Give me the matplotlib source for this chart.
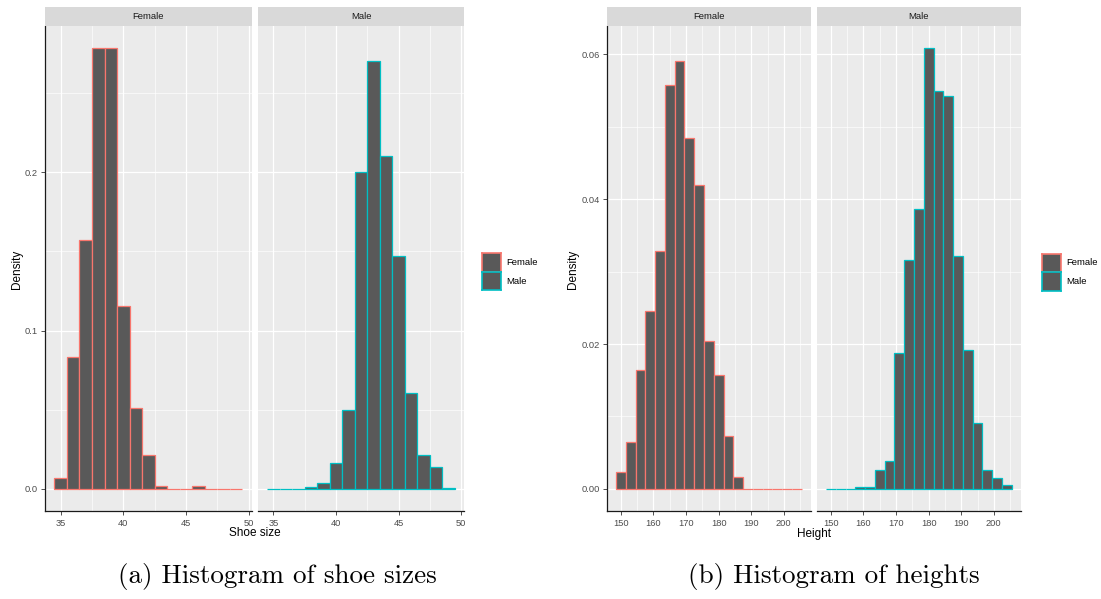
import matplotlib
matplotlib.use("Agg")
import matplotlib.pyplot as plt
from matplotlib.ticker import FixedLocator

# ---------------- data ----------------
shoe_bins = [35, 36, 37, 38, 39, 40, 41, 42, 43, 44, 45, 46, 47, 48, 49]
shoe_female = [0.0072, 0.0834, 0.1572, 0.2786, 0.2786, 0.1153, 0.0513, 0.0217,
               0.0019, 0.0, 0.0, 0.0019, 0.0, 0.0, 0.0]
shoe_male = [0.0, 0.0, 0.0, 0.0015, 0.0040, 0.0164, 0.0498, 0.2004, 0.2700,
             0.2100, 0.1468, 0.0604, 0.0217, 0.0136, 0.0009]

height_bins = [150, 153, 156, 159, 162, 165, 168, 171, 174, 177, 180, 183,
               186, 189, 192, 195, 198, 201, 204]
height_female = [0.0024, 0.0065, 0.0164, 0.0246, 0.0328, 0.0558, 0.0591,
                 0.0484, 0.0419, 0.0204, 0.0157, 0.0073, 0.0016, 0.0, 0.0,
                 0.0, 0.0, 0.0, 0.0]
height_male = [0.0, 0.0, 0.0, 0.0002, 0.0002, 0.0026, 0.0038, 0.0187, 0.0316,
               0.0386, 0.0609, 0.0549, 0.0543, 0.0322, 0.0192, 0.0091, 0.0026,
               0.0015, 0.0005]

groups = ["Female", "Male"]
group_colors = ["#F8766D", "#00BFC4"]

shoe_xticks = [35, 40, 45, 50]
shoe_yticks = [0.0, 0.1, 0.2]
shoe_yticklabels = ["0.0", "0.1", "0.2"]
height_xticks = [150, 160, 170, 180, 190, 200]
height_yticks = [0.00, 0.02, 0.04, 0.06]
height_yticklabels = ["0.00", "0.02", "0.04", "0.06"]

# ---------------- figure ----------------
plt.rcParams["font.family"] = ["Liberation Sans", "DejaVu Sans"]
W, H = 1101, 599
fig = plt.figure(figsize=(W / 100, H / 100), dpi=100)
fig.patch.set_facecolor("white")

PANEL_TOP = 25.7
PANEL_BOT = 511
STRIP_TOP = 6.7
TICK_FS = 6.7
TITLE_FS = 8.5


def px_axes(x0, x1, y0, y1):
    return fig.add_axes([x0 / W, 1 - y1 / H, (x1 - x0) / W, (y1 - y0) / H])


def expand(lo, hi, frac=0.05):
    d = (hi - lo) * frac
    return lo - d, hi + d


def draw_panel(x0, x1, bins, width, vals, color, xlim, ylim, xticks,
               xminor, yticks, yminor, yticklabels, title, first):
    ax = px_axes(x0, x1, PANEL_TOP, PANEL_BOT)
    ax.set_facecolor("#EBEBEB")
    ax.set_xlim(*xlim)
    ax.set_ylim(*ylim)
    for v in xminor:
        ax.axvline(v, color="white", lw=0.45, zorder=0.5)
    for v in yminor:
        ax.axhline(v, color="white", lw=0.45, zorder=0.5)
    for v in xticks:
        ax.axvline(v, color="white", lw=0.9, zorder=0.6)
    for v in yticks:
        ax.axhline(v, color="white", lw=0.9, zorder=0.6)
    ax.bar(bins, vals, width=width, color="#595959", edgecolor=color,
           linewidth=0.9, zorder=2)
    ax.xaxis.set_major_locator(FixedLocator(xticks))
    ax.set_xticklabels([str(t) for t in xticks])
    ax.tick_params(axis="x", length=3, width=0.6, color="#333333",
                   labelsize=TICK_FS, labelcolor="#4D4D4D", pad=3)
    for s in ["top", "right"]:
        ax.spines[s].set_visible(False)
    ax.spines["bottom"].set_color("#1A1A1A")
    ax.spines["bottom"].set_linewidth(0.9)
    if first:
        ax.yaxis.set_major_locator(FixedLocator(yticks))
        ax.set_yticklabels(yticklabels)
        ax.tick_params(axis="y", length=3, width=0.6, color="#333333",
                       labelsize=TICK_FS, labelcolor="#4D4D4D", pad=2)
        ax.spines["left"].set_color("#1A1A1A")
        ax.spines["left"].set_linewidth(0.9)
    else:
        ax.set_yticks([])
        ax.spines["left"].set_visible(False)
    sax = px_axes(x0, x1, STRIP_TOP, PANEL_TOP)
    sax.set_facecolor("#D9D9D9")
    sax.set_xticks([])
    sax.set_yticks([])
    for s in sax.spines.values():
        s.set_visible(False)
    sax.text(0.5, 0.5, title, ha="center", va="center", fontsize=6.8,
             color="#1A1A1A", transform=sax.transAxes)
    return ax


def legend(xk, yk, xt, size=18.5):
    for i, (g, c) in enumerate(zip(groups, group_colors)):
        kax = px_axes(xk, xk + size, yk + i * size, yk + (i + 1) * size)
        kax.set_facecolor("#595959")
        kax.set_xticks([])
        kax.set_yticks([])
        for s in kax.spines.values():
            s.set_color(c)
            s.set_linewidth(1.2)
        fig.text(xt / W, 1 - (yk + i * size + size / 2) / H, g,
                 fontsize=6.8, color="black", va="center", ha="left")


# --- (a) shoe sizes
sx = expand(34.5, 49.5)
sy = expand(0, max(max(shoe_female), max(shoe_male)))
shoe_xminor = [37.5, 42.5, 47.5]
shoe_yminor = [0.05, 0.15, 0.25]
draw_panel(45, 251.7, shoe_bins, 1.0, shoe_female, group_colors[0], sx, sy,
           shoe_xticks, shoe_xminor, shoe_yticks, shoe_yminor,
           shoe_yticklabels, "Female", True)
draw_panel(257.7, 464.3, shoe_bins, 1.0, shoe_male, group_colors[1], sx, sy,
           shoe_xticks, shoe_xminor, shoe_yticks, shoe_yminor,
           shoe_yticklabels, "Male", False)
legend(482.3, 253.3, 506.7)
fig.text(254.5 / W, 1 - 533.5 / H, "Shoe size", ha="center", va="center",
         fontsize=TITLE_FS, color="black")
fig.text(16.5 / W, 1 - 269 / H, "Density", ha="center", va="center",
         rotation=90, fontsize=TITLE_FS, color="black")

# --- (b) heights
hx = expand(148.5, 205.5)
hy = expand(0, max(max(height_female), max(height_male)))
height_xminor = [155, 165, 175, 185, 195, 205]
height_yminor = [0.01, 0.03, 0.05]
draw_panel(606.7, 811, height_bins, 3.0, height_female, group_colors[0], hx,
           hy, height_xticks, height_xminor, height_yticks, height_yminor,
           height_yticklabels, "Female", True)
draw_panel(816.7, 1021, height_bins, 3.0, height_male, group_colors[1], hx, hy,
           height_xticks, height_xminor, height_yticks, height_yminor,
           height_yticklabels, "Male", False)
legend(1042, 253.5, 1066)
fig.text(814 / W, 1 - 533.5 / H, "Height", ha="center", va="center",
         fontsize=TITLE_FS, color="black")
fig.text(572.5 / W, 1 - 269 / H, "Density", ha="center", va="center",
         rotation=90, fontsize=TITLE_FS, color="black")

# --- captions
fig.text(277 / W, 1 - 576 / H, "(a) Histogram of shoe sizes", ha="center",
         va="center", fontsize=19.5, family="cmr10", color="black")
fig.text(834 / W, 1 - 576 / H, "(b) Histogram of heights", ha="center",
         va="center", fontsize=19.5, family="cmr10", color="black")

fig.savefig("out.png", dpi=100)
